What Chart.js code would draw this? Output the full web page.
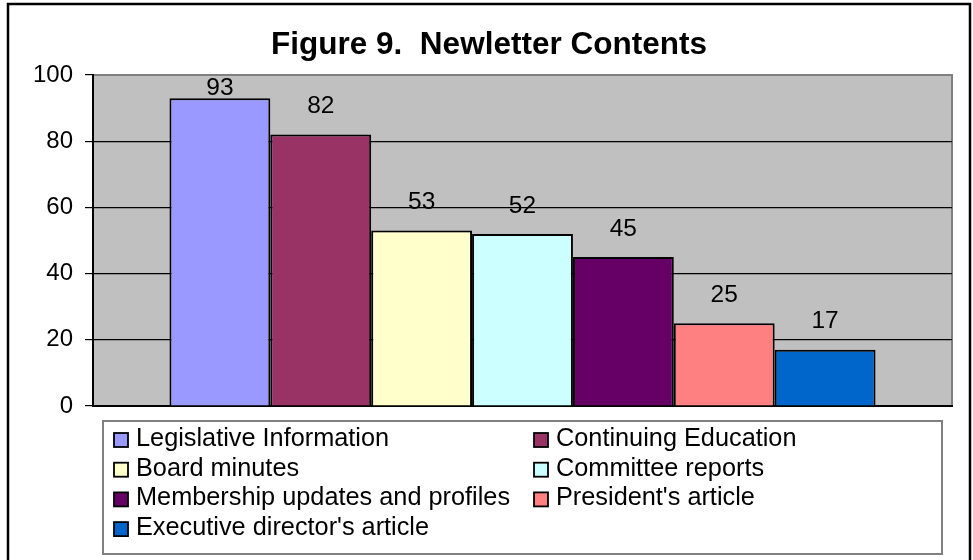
<!DOCTYPE html>
<html>
<head>
<meta charset="utf-8">
<script src="https://cdn.jsdelivr.net/npm/chart.js@4.4.1/dist/chart.umd.min.js"></script>
<style>
  html, body { margin: 0; padding: 0; background: #fff; }
  #wrap { width: 973px; height: 560px; }
</style>
</head>
<body>
<div id="wrap"><canvas id="myChart" width="973" height="560"></canvas></div>
<script>
// datos de la figura
const categories = ['Legislative Information', 'Continuing Education', 'Board minutes',
  'Committee reports', 'Membership updates and profiles', "President's article",
  "Executive director's article"];
const values = [93, 82, 53, 52, 45, 25, 17];
const colors = ['#9999FF', '#993366', '#FFFFCC', '#CCFFFF', '#660066', '#FF8080', '#0066CC'];
const yTicks = [0, 20, 40, 60, 80, 100];

const FONT = "'Liberation Sans', Arial, sans-serif";

/* fondo gris del area de trazado + marco exterior */
const frame = {
  id: 'frame',
  beforeDraw(chart) {
    const ctx = chart.ctx, a = chart.chartArea;
    ctx.save();
    ctx.fillStyle = '#C0C0C0';
    ctx.fillRect(a.left, a.top, a.right - a.left, a.bottom - a.top);
    ctx.strokeStyle = '#808080';
    ctx.lineWidth = 2;
    ctx.strokeRect(a.left, a.top, a.right - a.left, a.bottom - a.top);
    ctx.strokeStyle = '#000';
    ctx.lineWidth = 2.5;
    ctx.strokeRect(8, 4, 962, 600);
    // titulo
    ctx.fillStyle = '#000';
    ctx.font = 'bold 31.5px ' + FONT;
    ctx.textAlign = 'center';
    ctx.textBaseline = 'middle';
    ctx.fillText('Figure 9.  Newletter Contents', 489, 45);
    ctx.restore();
  }
};

/* etiquetas de valor sobre cada barra */
const valueLabels = {
  id: 'valueLabels',
  afterDatasetsDraw(chart) {
    const ctx = chart.ctx, a = chart.chartArea;
    ctx.save();
    ctx.fillStyle = '#000';
    ctx.font = '24.5px ' + FONT;
    ctx.textAlign = 'center';
    ctx.textBaseline = 'middle';
    chart.data.datasets.forEach((ds, i) => {
      const bar = chart.getDatasetMeta(i).data[0];
      const y = Math.max(bar.y - 28, a.top + 13);
      ctx.fillText(ds.data[0], bar.x, y);
    });
    ctx.restore();
  }
};

/* leyenda en dos columnas */
const boxLegend = {
  id: 'boxLegend',
  afterDraw(chart) {
    const ctx = chart.ctx;
    ctx.save();
    ctx.strokeStyle = '#808080';
    ctx.lineWidth = 2;
    ctx.strokeRect(103, 421, 839, 133);
    ctx.font = '25.3px ' + FONT;
    ctx.textBaseline = 'middle';
    chart.data.datasets.forEach((ds, i) => {
      const col = i % 2, row = Math.floor(i / 2);
      const x = 114 + col * 420, y = 439 + row * 29.7;
      ctx.fillStyle = ds.backgroundColor;
      ctx.fillRect(x, y - 6, 14, 14);
      ctx.strokeStyle = '#000';
      ctx.lineWidth = 1.8;
      ctx.strokeRect(x, y - 6, 14, 14);
      ctx.fillStyle = '#000';
      ctx.fillText(ds.label, x + 22, y);
    });
    ctx.restore();
  }
};

const datasets = categories.map((c, i) => ({
  label: c,
  data: [values[i]],
  backgroundColor: colors[i],
  borderColor: '#000',
  borderWidth: 2,
  categoryPercentage: 0.822,
  barPercentage: 1.0
}));

const myChart = new Chart(document.getElementById('myChart'), {
  type: 'bar',
  data: { labels: [''], datasets: datasets },
  options: {
    responsive: false,
    animation: false,
    layout: { padding: { top: 75, right: 21, bottom: 154, left: 0 } },
    plugins: {
      legend: { display: false },
      title: { display: false },
      tooltip: { enabled: false }
    },
    scales: {
      x: {
        grid: { display: false, drawTicks: false },
        ticks: { display: false },
        border: { display: true, color: '#000', width: 2 },
        afterFit(scale) { scale.height = 0; }
      },
      y: {
        min: 0,
        max: 100,
        afterBuildTicks(scale) { scale.ticks = yTicks.map(v => ({ value: v })); },
        ticks: { color: '#000', font: { size: 24, family: FONT }, padding: 12 },
        grid: {
          color: ctx => ctx.tick && ctx.tick.value === 100 ? '#808080' : '#000',
          tickColor: '#000',
          tickLength: 8,
          lineWidth: 1.2
        },
        border: { display: true, color: '#000', width: 2 },
        afterFit(scale) { scale.width = 93; }
      }
    }
  },
  plugins: [frame, valueLabels, boxLegend]
});
</script>
</body>
</html>
